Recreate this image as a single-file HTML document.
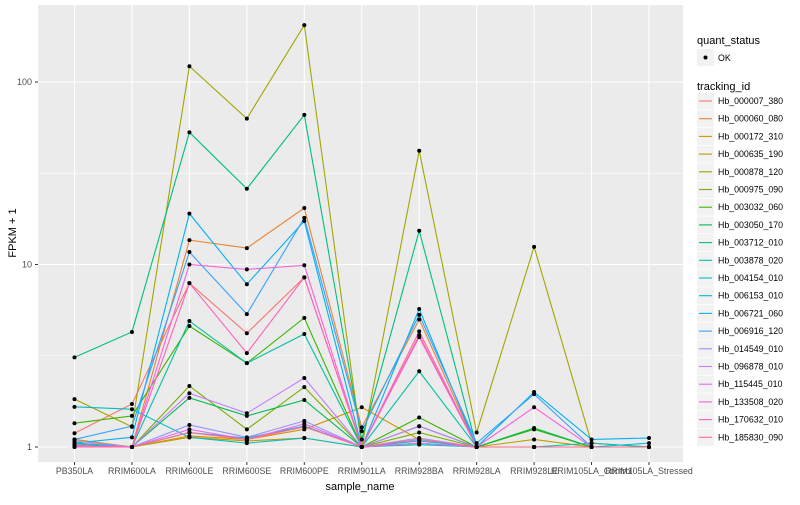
<!DOCTYPE html>
<html><head><meta charset="utf-8"><style>
body{margin:0;background:#fff;font-family:"Liberation Sans",sans-serif}
svg text{font-family:"Liberation Sans",sans-serif}
</style></head><body>
<svg id="chart" width="800" height="500" xmlns="http://www.w3.org/2000/svg">
<rect x="38" y="5" width="645" height="457" fill="#EBEBEB"/>
<g id="grid"></g><g id="lines"></g><g id="pts"></g><g id="axes"></g>
<text x="360" y="490" font-size="11" text-anchor="middle" fill="#000">sample_name</text>
<text transform="translate(16,233) rotate(-90)" font-size="11" text-anchor="middle" fill="#000">FPKM + 1</text>
<g id="legend"></g>
</svg>
<script>
const categories=["PB350LA","RRIM600LA","RRIM600LE","RRIM600SE","RRIM600PE","RRIM901LA","RRIM928BA","RRIM928LA","RRIM928LE","RRIM105LA_Control","RRIM105LA_Stressed"];
const seriesNames=["Hb_000007_380","Hb_000060_080","Hb_000172_310","Hb_000635_190","Hb_000878_120","Hb_000975_090","Hb_003032_060","Hb_003050_170","Hb_003712_010","Hb_003878_020","Hb_004154_010","Hb_006153_010","Hb_006721_060","Hb_006916_120","Hb_014549_010","Hb_096878_010","Hb_115445_010","Hb_133508_020","Hb_170632_010","Hb_185830_090"];
const s01=[1.19,1.72,7.9,4.2,8.5,1.0,4.1,1.0,1.0,1.0,1.0];
const s02=[1.05,1.0,13.6,12.3,20.4,1.28,5.0,1.0,1.0,1.0,1.0];
const s03=[1.02,1.0,1.15,1.1,1.25,1.65,1.1,1.0,1.0,1.0,1.0];
const s04=[1.1,1.0,1.13,1.08,1.12,1.0,1.05,1.0,1.1,1.0,1.0];
const s05=[1.83,1.29,122,63,205,1.0,42,1.2,12.5,1.05,1.0];
const s06=[1.05,1.0,2.16,1.25,2.13,1.0,1.2,1.0,1.0,1.0,1.0];
const s07=[1.35,1.48,4.6,2.88,5.1,1.0,1.45,1.0,1.25,1.0,1.0];
const s08=[1.03,1.0,1.86,1.48,1.81,1.0,1.3,1.0,1.27,1.0,1.0];
const s09=[3.1,4.27,53,26,66,1.1,15.3,1.0,1.0,1.0,1.0];
const s10=[1.02,1.0,4.9,2.88,4.16,1.0,2.6,1.0,1.0,1.05,1.0];
const s11=[1.66,1.61,1.13,1.05,1.12,1.0,1.03,1.0,1.0,1.0,1.0];
const s12=[1.05,1.0,1.2,1.12,1.3,1.0,1.08,1.0,1.0,1.0,1.05];
const s13=[1.05,1.13,19,7.8,17.3,1.0,5.7,1.0,2.0,1.1,1.12];
const s14=[1.1,1.3,11.7,5.35,18,1.22,5.3,1.05,1.95,1.0,1.0];
const s15=[1.02,1.0,1.32,1.13,1.39,1.0,1.12,1.0,1.0,1.0,1.0];
const s16=[1.08,1.0,1.97,1.53,2.39,1.0,1.3,1.0,1.0,1.0,1.0];
const s17=[1.01,1.0,1.25,1.1,1.34,1.0,1.05,1.0,1.0,1.0,1.0];
const s18=[1.02,1.0,10,9.4,9.9,1.0,4.0,1.0,1.65,1.0,1.0];
const s19=[1.0,1.0,7.9,3.27,8.5,1.0,4.3,1.0,1.0,1.0,1.0];
const s20=[1.0,1.0,1.2,1.1,1.29,1.0,1.1,1.0,1.0,1.0,1.0];
const yTicks=[1,10,100];
const yMinor=[Math.sqrt(10),Math.sqrt(1000)];
const colors=["#F8766D","#EA8331","#D89000","#C09B00","#A3A500","#7CAE00","#39B600","#00BB4E","#00BF7D","#00C1A3","#00BFC4","#00BAE0","#00B0F6","#35A2FF","#9590FF","#C77CFF","#E76BF3","#FA62DB","#FF62BC","#FF6C91"];
const allSeries=[s01,s02,s03,s04,s05,s06,s07,s08,s09,s10,s11,s12,s13,s14,s15,s16,s17,s18,s19,s20];
const NS="http://www.w3.org/2000/svg";
const xS=i=>74.5+i*57.45;
const yS=v=>447-182.5*Math.log10(v);
function mk(t,a,p){const e=document.createElementNS(NS,t);for(const k in a)e.setAttribute(k,a[k]);p.appendChild(e);return e;}
const G=document.getElementById('grid'),L=document.getElementById('lines'),P=document.getElementById('pts'),A=document.getElementById('axes'),LG=document.getElementById('legend');
yMinor.forEach(v=>{const l=mk('line',{x1:38,x2:683,y1:yS(v),y2:yS(v),stroke:'#fff','stroke-width':0.5},G);

});
yTicks.forEach(v=>{const l=mk('line',{x1:38,x2:683,y1:yS(v),y2:yS(v),stroke:'#fff','stroke-width':1.1},G);


const t=mk('text',{x:32,y:yS(v)+3,'font-size':9,'text-anchor':'end',fill:'#4D4D4D'},A);t.textContent=v;


mk('line',{x1:35,x2:38,y1:yS(v),y2:yS(v),stroke:'#333'},A);});
categories.forEach((c,i)=>{const l=mk('line',{x1:xS(i),x2:xS(i),y1:5,y2:462,stroke:'#fff','stroke-width':1.1},G);


mk('line',{x1:xS(i),x2:xS(i),y1:462,y2:465,stroke:'#333'},A);
const t=mk('text',{x:xS(i),y:474,'font-size':8.8,'text-anchor':'middle',fill:'#4D4D4D'},A);t.textContent=c;

});
allSeries.forEach((s,k)=>{const pl=mk('polyline',{points:s.map((v,i)=>xS(i)+','+yS(v)).join(' '),fill:'none',stroke:colors[k],'stroke-width':1.1},L);


s.forEach((v,i)=>{const c=mk('circle',{cx:xS(i),cy:yS(v),r:2,fill:'#000'},P);

});});
let t=mk('text',{x:697,y:44,'font-size':11},LG);t.textContent='quant_status';


mk('rect',{x:697,y:49,width:17,height:17,fill:'#F2F2F2'},LG);
mk('circle',{cx:705.5,cy:57.5,r:2,fill:'#000'},LG);
t=mk('text',{x:718,y:61,'font-size':8.8},LG);t.textContent='OK';


t=mk('text',{x:697,y:90,'font-size':11},LG);t.textContent='tracking_id';


seriesNames.forEach((n,k)=>{const y=101+k*17.7;
mk('rect',{x:697,y:y-8.5,width:17,height:17,fill:'#F2F2F2'},LG);
mk('line',{x1:699,x2:712,y1:y,y2:y,stroke:colors[k],'stroke-width':1.1},LG);
const tt=mk('text',{x:718,y:y+3,'font-size':8.8},LG);tt.textContent=n;

});
</script>
</body></html>
